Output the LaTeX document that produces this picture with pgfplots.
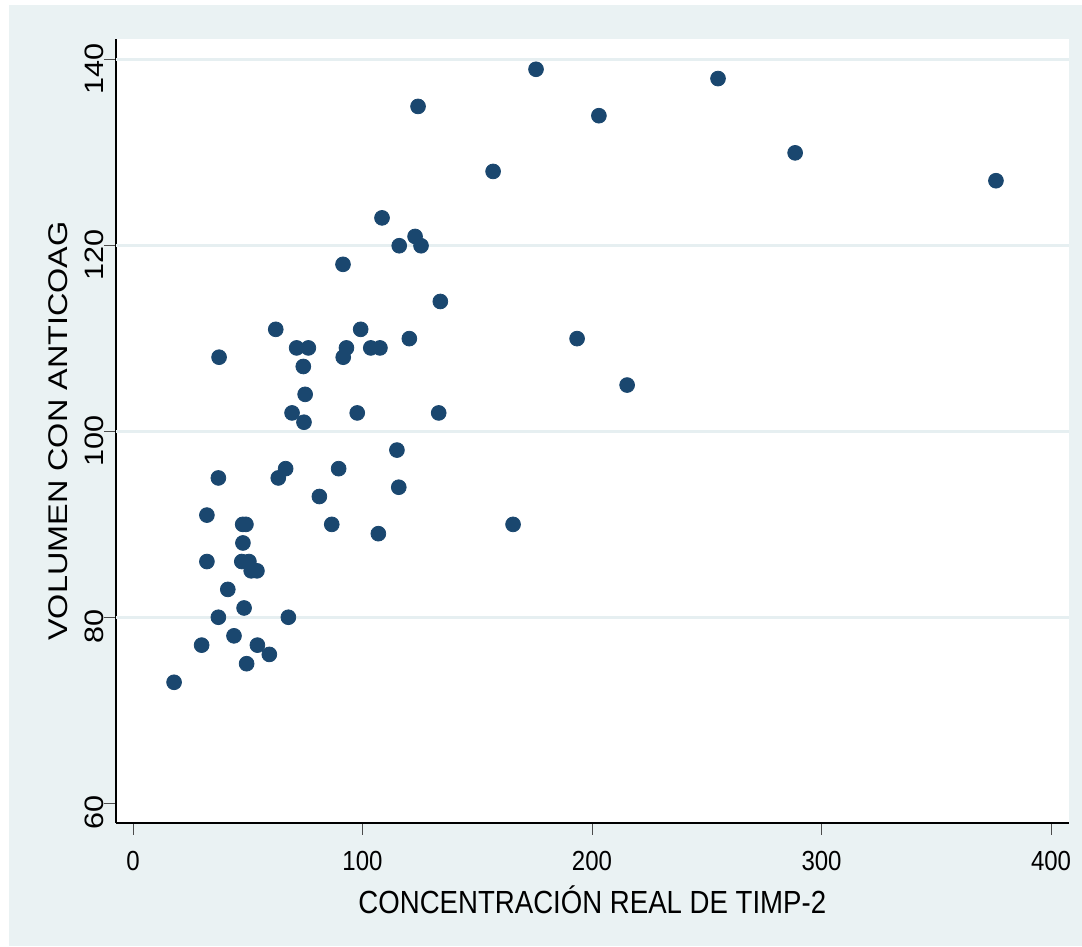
\documentclass[border=0pt]{standalone}
\usepackage{pgfplots}
\pgfplotsset{compat=1.18}
\usepackage{fontspec}
\setmainfont{Liberation Sans}
\definecolor{bgc}{HTML}{EAF2F3}
\definecolor{gridc}{HTML}{E6EFF1}
\definecolor{navy}{HTML}{1A476F}
\begin{document}
\begin{tikzpicture}
\fill[white] (-58pt,-62pt) rectangle (483pt,411.5pt);
\fill[bgc] (-53.5pt,-61.5pt) rectangle (483pt,409pt);
\begin{axis}[
  at={(0,0)}, anchor=south west,
  scale only axis, width=476.35pt, height=392pt,
  xmin=-7.41, xmax=407.7, ymin=57.85, ymax=142.26,
  axis background/.style={fill=white},
  axis x line*=bottom, axis y line*=left,
  axis line style={-, black, line width=0.6pt},
  xtick={0,100,200,300,400}, ytick={60,80,100,120,140},
  minor tick num=0,
  tick align=outside, major tick length=6pt,
  tick style={black!70, line width=0.5pt},
  xticklabel={\scalebox{1}[1.15]{\pgfmathprintnumber[assume math mode=true]{\tick}}},
  yticklabel={\scalebox{1.15}[1]{\pgfmathprintnumber[assume math mode=true]{\tick}}},
  xticklabel style={font=\fontsize{12}{13}\selectfont, inner sep=0pt, anchor=north, yshift=-8pt},
  yticklabel style={font=\fontsize{13.3}{15}\selectfont, rotate=90, inner sep=0pt, anchor=south, xshift=-4.5pt},
  extra y ticks={80,100,120,140},
  extra y tick labels={},
  extra y tick style={grid=major, major tick length=0pt},
  major grid style={gridc, line width=1.5pt},
  clip=false,
]
\addplot[only marks, mark=*, mark size=3.7pt, mark options={fill=navy, draw=navy}] coordinates {
(17.9,73) (29.9,77) (32.2,91) (32.2,86) (37.5,108) (37.2,95) (37.2,80)
(41.3,83) (44,78) (47.8,90) (49.2,90) (47.9,88) (47.4,86) (50.5,86)
(48.4,81) (49.5,75) (51.5,85) (54,85) (54.2,77) (59.4,76) (62.2,111)
(63.3,95) (66.5,96) (67.7,80) (69.3,102) (71.3,109) (74.2,107) (74.5,101)
(75,104) (76.4,109) (81.2,93) (86.6,90) (89.6,96) (91.5,118) (91.6,108)
(93,109) (97.7,102) (99.2,111) (103.6,109) (106.9,89) (107.6,109) (108.5,123)
(115,98) (115.8,94) (116,120) (120.4,110) (122.9,121) (124.2,135) (125.5,120)
(133.2,102) (133.9,114) (156.9,128) (165.6,90) (175.6,139) (193.5,110)
(203,134) (215.3,105) (254.9,138) (288.5,130) (376,127)
};
\node[inner sep=0pt, anchor=north, font=\fontsize{13.8}{15}\selectfont] at ([yshift=-31.3pt]axis description cs:0.5,0) {\scalebox{1}[1.16]{CONCENTRACIÓN REAL DE TIMP-2}};
\node[inner sep=0pt, anchor=south, rotate=90, font=\fontsize{13.5}{15}\selectfont] at ([xshift=-24pt]axis description cs:0,0.5) {\scalebox{1.2}[1]{VOLUMEN CON ANTICOAG}};
\end{axis}
\end{tikzpicture}
\end{document}
